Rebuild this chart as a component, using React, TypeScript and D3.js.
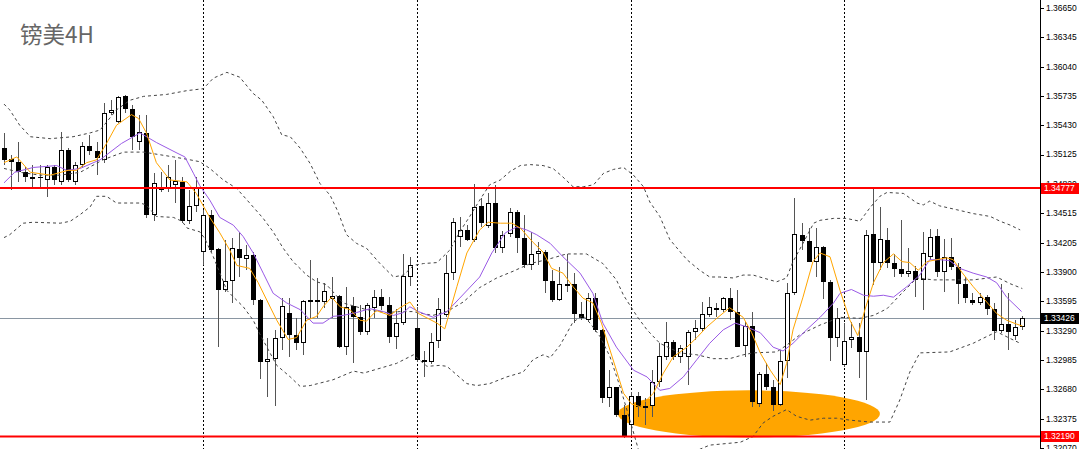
import React from 'react';
import * as d3 from 'd3';

// ---------- DATA ----------
const title = '镑美4H';

const opens: number[] = [
  1.3519, 1.3508, 1.3505, 1.3494, 1.3487, 1.3489, 1.3486, 1.3500, 1.3484, 1.3517, 1.3484, 1.3502,
  1.3521, 1.3516, 1.3507, 1.3556, 1.3546, 1.3573, 1.3560, 1.3526, 1.3535, 1.3450, 1.3479, 1.3478,
  1.3481, 1.3484, 1.3443, 1.3459, 1.3411, 1.3450, 1.3414, 1.3371, 1.3381, 1.3414, 1.3404, 1.3408,
  1.3361, 1.3297, 1.3300, 1.3322, 1.3348, 1.3325, 1.3316, 1.3359, 1.3361, 1.3359, 1.3362, 1.3365,
  1.3312, 1.3355, 1.3343, 1.3328, 1.3353, 1.3364, 1.3356, 1.3323, 1.3337, 1.3385, 1.3332, 1.3299,
  1.3297, 1.3318, 1.3345, 1.3389, 1.3427, 1.3434, 1.3424, 1.3459, 1.3438, 1.3462, 1.3415, 1.3430,
  1.3453, 1.3426, 1.3398, 1.3409, 1.3411, 1.3381, 1.3361, 1.3378, 1.3378, 1.3347, 1.3340, 1.3363,
  1.3330, 1.3259, 1.3270, 1.3241, 1.3231, 1.3261, 1.3251, 1.3251, 1.3276, 1.3302, 1.3317, 1.3302,
  1.3302, 1.3328, 1.3331, 1.3345, 1.3353, 1.3351, 1.3363, 1.3349, 1.3313, 1.3334, 1.3253, 1.3284,
  1.3271, 1.3252, 1.3298, 1.3368, 1.3429, 1.3422, 1.3401, 1.3416, 1.3380, 1.3322, 1.3293, 1.3319,
  1.3323, 1.3307, 1.3430, 1.3400, 1.3424, 1.3400, 1.3393, 1.3388, 1.3391, 1.3382, 1.3406, 1.3428,
  1.3390, 1.3406, 1.3395, 1.3378, 1.3361, 1.3358, 1.3364, 1.3352, 1.3329, 1.3336, 1.3324, 1.3333,
];
const highs: number[] = [
  1.3535, 1.3512, 1.3525, 1.3500, 1.3502, 1.3502, 1.3502, 1.3502, 1.3536, 1.3519, 1.3505, 1.3526,
  1.3533, 1.3526, 1.3566, 1.3569, 1.3573, 1.3574, 1.3564, 1.3554, 1.3554, 1.3493, 1.3494, 1.3502,
  1.3507, 1.3489, 1.3476, 1.3489, 1.3455, 1.3455, 1.3415, 1.3424, 1.3426, 1.3432, 1.3418, 1.3411,
  1.3362, 1.3322, 1.3330, 1.3363, 1.3363, 1.3342, 1.3361, 1.3403, 1.3384, 1.3379, 1.3385, 1.3366,
  1.3375, 1.3364, 1.3356, 1.3358, 1.3371, 1.3372, 1.3364, 1.3352, 1.3409, 1.3406, 1.3354, 1.3308,
  1.3327, 1.3363, 1.3408, 1.3446, 1.3447, 1.3439, 1.3482, 1.3467, 1.3472, 1.3481, 1.3433, 1.3457,
  1.3455, 1.3450, 1.3432, 1.3421, 1.3413, 1.3392, 1.3395, 1.3409, 1.3389, 1.3359, 1.3368, 1.3368,
  1.3331, 1.3288, 1.3271, 1.3252, 1.3265, 1.3265, 1.3259, 1.3288, 1.3316, 1.3338, 1.3319, 1.3314,
  1.3330, 1.3340, 1.3359, 1.3364, 1.3358, 1.3364, 1.3374, 1.3371, 1.3338, 1.3349, 1.3286, 1.3295,
  1.3278, 1.3309, 1.3379, 1.3467, 1.3441, 1.3436, 1.3436, 1.3417, 1.3382, 1.3353, 1.3337, 1.3338,
  1.3337, 1.3434, 1.3479, 1.3458, 1.3436, 1.3409, 1.3444, 1.3415, 1.3396, 1.3432, 1.3435, 1.3435,
  1.3425, 1.3426, 1.3400, 1.3385, 1.3368, 1.3368, 1.3366, 1.3358, 1.3378, 1.3368, 1.3340, 1.3344,
];
const lows: number[] = [
  1.3502, 1.3476, 1.3484, 1.3484, 1.3479, 1.3479, 1.3468, 1.3481, 1.3481, 1.3484, 1.3481, 1.3498,
  1.3512, 1.3491, 1.3504, 1.3554, 1.3545, 1.3556, 1.3517, 1.3517, 1.3446, 1.3443, 1.3473, 1.3473,
  1.3462, 1.3441, 1.3440, 1.3453, 1.3398, 1.3411, 1.3312, 1.3369, 1.3358, 1.3385, 1.3392, 1.3356,
  1.3279, 1.3260, 1.3251, 1.3309, 1.3302, 1.3309, 1.3304, 1.3341, 1.3342, 1.3353, 1.3342, 1.3311,
  1.3304, 1.3295, 1.3325, 1.3325, 1.3342, 1.3351, 1.3316, 1.3310, 1.3335, 1.3376, 1.3297, 1.3281,
  1.3294, 1.3311, 1.3343, 1.3382, 1.3416, 1.3422, 1.3421, 1.3437, 1.3436, 1.3410, 1.3410, 1.3427,
  1.3410, 1.3394, 1.3392, 1.3398, 1.3368, 1.3359, 1.3360, 1.3369, 1.3337, 1.3340, 1.3338, 1.3328,
  1.3254, 1.3250, 1.3239, 1.3217, 1.3218, 1.3239, 1.3231, 1.3239, 1.3271, 1.3299, 1.3299, 1.3295,
  1.3273, 1.3319, 1.3328, 1.3343, 1.3343, 1.3349, 1.3340, 1.3312, 1.3302, 1.3250, 1.3250, 1.3267,
  1.3245, 1.3251, 1.3280, 1.3366, 1.3413, 1.3401, 1.3385, 1.3362, 1.3298, 1.3312, 1.3291, 1.3311,
  1.3280, 1.3257, 1.3377, 1.3392, 1.3394, 1.3385, 1.3385, 1.3385, 1.3364, 1.3351, 1.3403, 1.3385,
  1.3369, 1.3392, 1.3357, 1.3358, 1.3356, 1.3356, 1.3345, 1.3319, 1.3327, 1.3309, 1.3319, 1.3330,
];
const closes: number[] = [
  1.3507, 1.3505, 1.3494, 1.3489, 1.3489, 1.3488, 1.3500, 1.3486, 1.3517, 1.3486, 1.3502, 1.3521,
  1.3516, 1.3509, 1.3556, 1.3559, 1.3572, 1.3560, 1.3531, 1.3536, 1.3450, 1.3483, 1.3476, 1.3489,
  1.3485, 1.3443, 1.3459, 1.3479, 1.3450, 1.3413, 1.3371, 1.3381, 1.3415, 1.3405, 1.3408, 1.3361,
  1.3297, 1.3300, 1.3322, 1.3355, 1.3325, 1.3316, 1.3360, 1.3361, 1.3359, 1.3370, 1.3365, 1.3312,
  1.3354, 1.3343, 1.3328, 1.3356, 1.3364, 1.3355, 1.3323, 1.3337, 1.3386, 1.3398, 1.3299, 1.3297,
  1.3317, 1.3352, 1.3389, 1.3442, 1.3434, 1.3424, 1.3458, 1.3441, 1.3462, 1.3415, 1.3429, 1.3453,
  1.3426, 1.3398, 1.3409, 1.3412, 1.3381, 1.3361, 1.3378, 1.3376, 1.3347, 1.3342, 1.3363, 1.3330,
  1.3259, 1.3270, 1.3241, 1.3218, 1.3261, 1.3250, 1.3249, 1.3276, 1.3303, 1.3317, 1.3302, 1.3311,
  1.3328, 1.3332, 1.3347, 1.3354, 1.3351, 1.3363, 1.3349, 1.3312, 1.3334, 1.3255, 1.3284, 1.3271,
  1.3252, 1.3298, 1.3368, 1.3430, 1.3422, 1.3401, 1.3416, 1.3380, 1.3322, 1.3342, 1.3318, 1.3323,
  1.3307, 1.3429, 1.3400, 1.3425, 1.3400, 1.3393, 1.3388, 1.3391, 1.3382, 1.3410, 1.3427, 1.3390,
  1.3406, 1.3395, 1.3378, 1.3363, 1.3358, 1.3364, 1.3352, 1.3329, 1.3336, 1.3328, 1.3333, 1.33426,
];

// indicator lines: [bar index, price]
const maFast: [number, number][] = [
  [0,1.3504],[1.8,1.3510],[3.7,1.3494],[6.5,1.3491],[9,1.3496],[10.2,1.3496],[11.6,1.3504],[13,1.3507],
  [14.4,1.3524],[15.8,1.3543],[17.9,1.3554],[18.9,1.3550],[20,1.3535],[21.4,1.3504],[23.3,1.3486],[25.7,1.3484],
  [27,1.3472],[28.9,1.3447],[30.3,1.3431],[31.7,1.3413],[32.7,1.3397],[34.5,1.3394],[35.7,1.3379],[36.9,1.3361],
  [38.3,1.3340],[39.9,1.3320],[41.1,1.3322],[42.5,1.3340],[43.9,1.3344],[44.8,1.3354],[46,1.3364],[47.2,1.3354],
  [48.6,1.3351],[50,1.3340],[50.9,1.3339],[52.3,1.3350],[54.2,1.3345],[55.6,1.3353],[57,1.3359],[58.2,1.3347],
  [60.8,1.3337],[61.9,1.3331],[62.6,1.3349],[63.6,1.3375],[65,1.3410],[66.8,1.3434],[68,1.3442],[69.7,1.3441],
  [71.3,1.3441],[72.5,1.3436],[74.3,1.3421],[75.7,1.3411],[76.9,1.3394],[78.5,1.3389],[79.9,1.3375],[81.3,1.3363],
  [82.7,1.3358],[83.9,1.3337],[85.1,1.3309],[86,1.3288],[87,1.3264],[88.1,1.3253],[89.3,1.3250],[91.2,1.3264],
  [92.6,1.3285],[94,1.3302],[95.9,1.3312],[97.3,1.3322],[98.7,1.3333],[100.1,1.3342],[101.9,1.3353],[103.8,1.3343],
  [105,1.3327],[106.2,1.3306],[107.6,1.3288],[109,1.3273],[109.9,1.3295],[110.8,1.3330],[112.2,1.3364],[113.6,1.3401],
  [114.6,1.3410],[116,1.3406],[117.4,1.3371],[118.8,1.3340],[119.9,1.3324],[120.9,1.3351],[122.1,1.3379],[123.5,1.3400],
  [124.9,1.3409],[126.1,1.3401],[127.2,1.3400],[128.4,1.3392],[129.6,1.3401],[131,1.3403],[132.4,1.3405],[133.3,1.3403],
  [134.5,1.3390],[136.1,1.3375],[138,1.3359],[139.4,1.3347],[140.8,1.3340],[142.2,1.3336],[143,1.3334],
];
const maSlow: [number, number][] = [
  [0,1.3483],[1.5,1.3494],[4.1,1.3499],[7.4,1.3501],[8.8,1.3496],[10.7,1.3498],[13.5,1.3507],[16.5,1.3524],
  [19.1,1.3535],[21.4,1.3525],[24.3,1.3514],[25.4,1.3510],[26.6,1.3493],[27.5,1.3480],[28.9,1.3465],[30.3,1.3447],
  [32.2,1.3439],[33.6,1.3427],[35,1.3410],[36.4,1.3389],[37.8,1.3368],[39.7,1.3358],[41.6,1.3351],[43.4,1.3337],
  [44.8,1.3337],[46.2,1.3344],[47.6,1.3345],[49.5,1.3348],[51.4,1.3352],[53.3,1.3349],[54.7,1.3345],[56.1,1.3348],
  [57,1.3354],[58.2,1.3349],[60.3,1.3343],[62.2,1.3349],[64,1.3363],[66.8,1.3385],[68.5,1.3410],[70.4,1.3431],
  [72,1.3437],[73.4,1.3434],[74.8,1.3429],[76.7,1.3420],[78.5,1.3406],[80.9,1.3389],[82.7,1.3368],[84.1,1.3337],
  [86,1.3312],[88.4,1.3288],[90.3,1.3281],[92.1,1.3267],[93.5,1.3269],[95.4,1.3281],[97.3,1.3299],[99.1,1.3316],
  [101,1.3330],[102.7,1.3337],[104.3,1.3333],[106.2,1.3327],[108,1.3312],[109.4,1.3308],[110.8,1.3316],[112.7,1.3330],
  [114.6,1.3343],[116.5,1.3358],[117.4,1.3368],[119,1.3372],[120.7,1.3366],[122.1,1.3365],[123.5,1.3366],[124.9,1.3364],
  [126.8,1.3375],[128.6,1.3387],[130,1.3403],[131.4,1.3403],[132.8,1.3402],[134.2,1.3394],[136.1,1.3389],[138,1.3385],
  [139.4,1.3379],[140.8,1.3364],[142.9,1.3349],
];
const bbUpper: [number, number][] = [
  [0,1.3565],[0.8,1.3559],[2.2,1.3543],[3.7,1.3531],[6.5,1.3529],[9.7,1.3531],[12.1,1.3535],[13.5,1.3538],
  [15.8,1.3559],[17.7,1.3569],[19.6,1.3573],[22.8,1.3575],[25.7,1.3579],[28,1.3581],[29.4,1.3592],[31.3,1.3598],
  [33.1,1.3593],[35,1.3576],[36.2,1.3569],[37.8,1.3552],[39,1.3533],[40.2,1.3531],[41.6,1.3519],[43,1.3503],
  [44.4,1.3482],[45.8,1.3470],[46.9,1.3453],[48.1,1.3429],[49.5,1.3420],[50.9,1.3415],[52.8,1.3399],[54.7,1.3385],
  [56.1,1.3387],[57.5,1.3397],[58.9,1.3399],[60.8,1.3400],[62.6,1.3413],[64,1.3432],[65.4,1.3448],[66.8,1.3465],
  [68.2,1.3481],[69.7,1.3486],[71.1,1.3495],[72.5,1.3501],[73.9,1.3502],[75.7,1.3501],[77.1,1.3498],[78.5,1.3489],
  [79.9,1.3479],[81.4,1.3479],[82.8,1.3481],[84.2,1.3493],[85.6,1.3497],[87,1.3499],[88.4,1.3491],[89.8,1.3479],
  [90.7,1.3463],[92.1,1.3448],[93.5,1.3424],[95.9,1.3403],[97.7,1.3392],[99.1,1.3385],[100.5,1.3385],[102.4,1.3384],
  [103.8,1.3387],[105.2,1.3387],[106.6,1.3384],[108.5,1.3380],[109.9,1.3384],[110.8,1.3401],[112.2,1.3420],[113.7,1.3441],
  [114.6,1.3444],[116.5,1.3446],[118.3,1.3446],[120.2,1.3443],[121.6,1.3457],[123,1.3469],[124,1.3473],[126.3,1.3472],
  [128.2,1.3462],[129.1,1.3460],[130,1.3464],[131.4,1.3459],[133.8,1.3455],[136.1,1.3451],[138.5,1.3448],[139.9,1.3443],
  [141.3,1.3439],[142.7,1.3434],
];
const bbMiddle: [number, number][] = [
  [0,1.3498],[2.2,1.3494],[5.1,1.3491],[7.9,1.3491],[10.7,1.3494],[13.9,1.3507],[16.8,1.3515],[19.6,1.3515],
  [23.8,1.3510],[26.1,1.3507],[27.5,1.3505],[28.9,1.3498],[30.8,1.3486],[32.7,1.3477],[34.5,1.3462],[36.4,1.3446],
  [37.8,1.3432],[39.2,1.3415],[40.6,1.3401],[42.5,1.3387],[43.9,1.3380],[45.3,1.3377],[47.6,1.3358],[50.9,1.3351],
  [53.7,1.3348],[55.6,1.3349],[57.4,1.3349],[60.2,1.3345],[62.2,1.3349],[64.5,1.3359],[66.8,1.3374],[69.2,1.3384],
  [71.5,1.3391],[73.9,1.3399],[76.2,1.3403],[77.6,1.3406],[79,1.3409],[81.8,1.3409],[84.1,1.3399],[86,1.3382],
  [87,1.3366],[88.9,1.3344],[90.3,1.3330],[92.1,1.3316],[94.9,1.3306],[97.3,1.3304],[99.6,1.3300],[101.9,1.3300],
  [103.8,1.3304],[105.2,1.3306],[108.5,1.3307],[109.9,1.3314],[111.8,1.3325],[114.6,1.3335],[117.4,1.3343],[120.2,1.3342],
  [122.1,1.3345],[124,1.3352],[125.8,1.3366],[128.2,1.3384],[130.5,1.3382],[132.8,1.3382],[136.1,1.3382],[139.4,1.3385],
  [141.3,1.3378],[143,1.3373],
];
const bbLower: [number, number][] = [
  [0,1.3426],[0.8,1.3429],[2.7,1.3441],[4.1,1.3442],[7.9,1.3441],[9.3,1.3443],[10.7,1.3450],[12.1,1.3458],
  [13,1.3469],[14.4,1.3469],[15.8,1.3462],[19.1,1.3462],[20,1.3460],[21.4,1.3448],[23.8,1.3447],[25,1.3443],
  [25.7,1.3436],[27.5,1.3432],[28.2,1.3425],[29.4,1.3406],[31.3,1.3371],[33.6,1.3354],[35,1.3340],[35.9,1.3326],
  [38.3,1.3293],[40.2,1.3281],[41.6,1.3271],[43,1.3272],[46.2,1.3278],[49.1,1.3287],[50.5,1.3285],[52.8,1.3290],
  [55.1,1.3295],[57.5,1.3304],[59.4,1.3292],[61.2,1.3293],[62.2,1.3292],[63.6,1.3283],[65,1.3274],[66.4,1.3272],
  [68.2,1.3274],[70.6,1.3281],[72.9,1.3286],[74.3,1.3299],[75.7,1.3304],[76.7,1.3301],[78.1,1.3314],[79,1.3326],
  [79.9,1.3338],[81.3,1.3345],[82.3,1.3337],[83.7,1.3323],[85.1,1.3302],[86.5,1.3271],[87.9,1.3236],[89.3,1.3200],
  [92.1,1.3189],[95.9,1.3200],[99.1,1.3210],[103.4,1.3213],[105.2,1.3219],[106.6,1.3233],[108,1.3240],[109.9,1.3247],
  [111.3,1.3240],[113.2,1.3236],[115.1,1.3238],[116.9,1.3238],[118.8,1.3236],[121.6,1.3234],[124.4,1.3234],[125.8,1.3257],
  [127.2,1.3286],[128.6,1.3306],[132.8,1.3307],[136.1,1.3316],[138,1.3323],[139.4,1.3328],[141.3,1.3321],[142.7,1.3316],
];

const weekStarts: number[] = [28, 58, 88, 118];
const axisLabels: string[] = [
  '1.36650', '1.36345', '1.36040', '1.35735', '1.35430', '1.35125', '1.34820', '1.34515',
  '1.34205', '1.33900', '1.33595', '1.33290', '1.32985', '1.32680', '1.32375', '1.32070',
];
const resistance = 1.34777;
const support = 1.32190;
const bid = 1.33426;
// highlighted zone (bar range, price range)
const zoneBars: [number, number] = [86.2, 123];
const zonePrices: [number, number] = [1.3218, 1.3267];

// ---------- CHART ----------
const W = 1080;
const H = 449;
const AXIS_X = 1040;

export default function App() {
  const x = d3.scaleLinear().domain([0, 143]).range([4, 1022.3]);
  const y = d3.scaleLinear().domain([1.3207, 1.3665]).range([448, 8]);
  const line = d3
    .line<[number, number]>()
    .x((d) => x(d[0]))
    .y((d) => y(d[1]));

  const fmt = (v: number) => v.toFixed(5);

  const ex0 = x(zoneBars[0]);
  const ex1 = x(zoneBars[1]);
  const ey0 = y(zonePrices[1]);
  const ey1 = y(zonePrices[0]);

  const labelFont = '"Liberation Sans", Arial, sans-serif';

  const highlight = (v: number, bg: string) => {
    const yy = y(v);
    return (
      <g key={'hl' + v}>
        <rect x={AXIS_X + 1} y={Math.round(yy) - 5} width={38} height={11} fill={bg} />
        <text
          x={AXIS_X + 4}
          y={yy}
          dy="0.35em"
          fontSize={8.5}
          fontFamily={labelFont}
          fill="#fff"
        >
          {fmt(v)}
        </text>
      </g>
    );
  };

  return (
    <svg
      width={W}
      height={H}
      viewBox={`0 0 ${W} ${H}`}
      style={{ position: 'absolute', left: 0, top: 0, background: '#fff' }}
    >
      <defs>
        <clipPath id="plot">
          <rect x={0} y={0} width={AXIS_X} height={H} />
        </clipPath>
      </defs>
      <rect x={0} y={0} width={W} height={H} fill="#fff" />

      <g clipPath="url(#plot)">
        {/* highlighted zone */}
        <ellipse
          cx={(ex0 + ex1) / 2}
          cy={(ey0 + ey1) / 2}
          rx={(ex1 - ex0) / 2}
          ry={(ey1 - ey0) / 2}
          fill="#FFA500"
        />

        {/* bid line */}
        <line
          x1={0}
          x2={AXIS_X}
          y1={Math.round(y(bid)) + 0.5}
          y2={Math.round(y(bid)) + 0.5}
          stroke="#8a96a2"
          strokeWidth={1}
        />

        {/* week separators */}
        {weekStarts.map((i) => {
          const xx = Math.round(x(i)) + 0.5;
          return (
            <line
              key={'sep' + i}
              x1={xx}
              x2={xx}
              y1={0}
              y2={H}
              stroke="#000"
              strokeWidth={1}
              strokeDasharray="2,2"
            />
          );
        })}

        {/* candles */}
        {opens.map((o, i) => {
          const c = closes[i];
          const cx = Math.round(x(i));
          const top = Math.round(y(Math.max(o, c)));
          const bot = Math.round(y(Math.min(o, c)));
          const h = Math.max(1, bot - top);
          const bull = c >= o;
          return (
            <g key={'c' + i}>
              <line
                x1={cx + 0.5}
                x2={cx + 0.5}
                y1={Math.round(y(highs[i]))}
                y2={Math.round(y(lows[i]))}
                stroke="#555"
                strokeWidth={1}
              />
              {bull ? (
                <rect
                  x={cx - 1.5}
                  y={top + 0.5}
                  width={4}
                  height={Math.max(1, h - 1)}
                  fill="#fff"
                  stroke="#000"
                  strokeWidth={1}
                />
              ) : (
                <rect x={cx - 2} y={top} width={5} height={h} fill="#000" />
              )}
            </g>
          );
        })}

        {/* Bollinger bands */}
        {[bbUpper, bbMiddle, bbLower].map((pts, k) => (
          <path
            key={'bb' + k}
            d={line(pts) || ''}
            fill="none"
            stroke="#444"
            strokeWidth={1}
            strokeDasharray="3,3"
          />
        ))}

        {/* moving averages */}
        <path d={line(maSlow) || ''} fill="none" stroke="#9a5ae6" strokeWidth={1} />
        <path d={line(maFast) || ''} fill="none" stroke="#FFA500" strokeWidth={1} />

        {/* horizontal levels */}
        {[resistance, support].map((v) => (
          <line
            key={'lvl' + v}
            x1={0}
            x2={AXIS_X}
            y1={y(v)}
            y2={y(v)}
            stroke="#ff0000"
            strokeWidth={2}
          />
        ))}
      </g>

      {/* title */}
      <text
        x={20}
        y={43}
        fontSize={22.5}
        fill="#666"
        fontFamily='"Noto Sans CJK SC", "Noto Sans", sans-serif'
      >
        {title}
      </text>

      {/* price axis */}
      <line x1={AXIS_X + 0.5} x2={AXIS_X + 0.5} y1={0} y2={H} stroke="#000" strokeWidth={1} />
      {axisLabels.map((s) => {
        const yy = y(+s);
        return (
          <g key={'t' + s}>
            <line
              x1={AXIS_X}
              x2={AXIS_X + 4}
              y1={Math.round(yy) + 0.5}
              y2={Math.round(yy) + 0.5}
              stroke="#000"
            />
            <text
              x={AXIS_X + 6}
              y={Math.max(yy, 5)}
              dy="0.35em"
              fontSize={8.5}
              fontFamily={labelFont}
              fill="#000"
            >
              {s}
            </text>
          </g>
        );
      })}
      {highlight(resistance, '#ff0000')}
      {highlight(bid, '#000')}
      {highlight(support, '#ff0000')}
    </svg>
  );
}
